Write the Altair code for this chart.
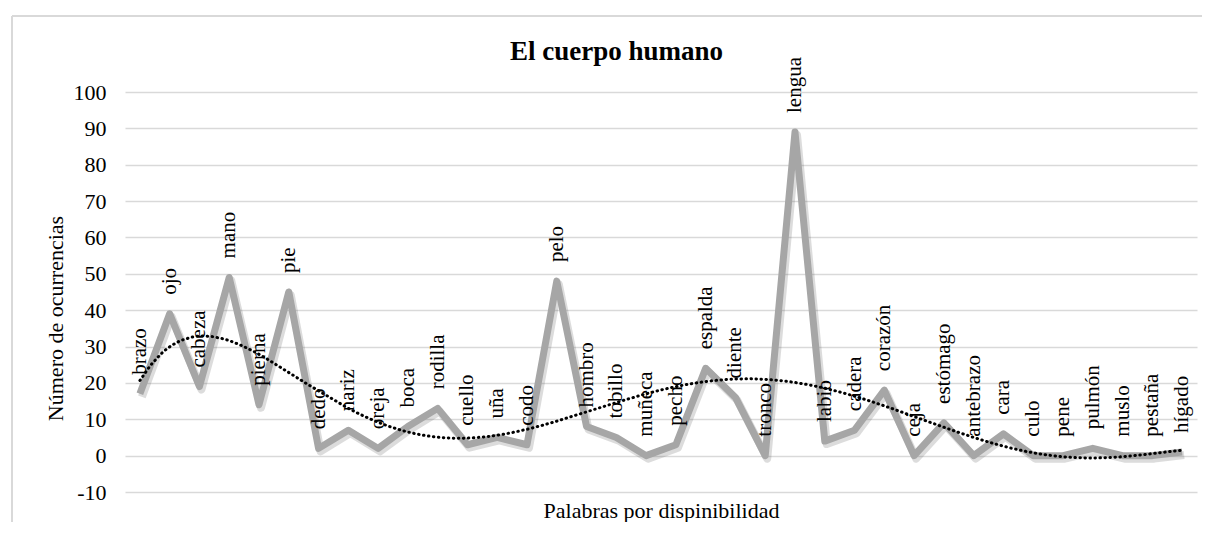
import altair as alt
import pandas as pd

words = ["brazo", "ojo", "cabeza", "mano", "pierna", "pie", "dedo", "nariz", "oreja", "boca",
         "rodilla", "cuello", "uña", "codo", "pelo", "hombro", "tobillo", "muñeca", "pecho",
         "espalda", "diente", "tronco", "lengua", "labio", "cadera", "corazón", "ceja",
         "estómago", "antebrazo", "cara", "culo", "pene", "pulmón", "muslo", "pestaña", "hígado"]
counts = [17, 39, 19, 49, 14, 45, 2, 7, 2, 8,
          13, 3, 5, 3, 48, 8, 5, 0, 3,
          24, 16, 0, 89, 4, 7, 18, 0,
          9, 0, 6, 0, 0, 2, 0, 0, 1]
y_ticks = [-10, 0, 10, 20, 30, 40, 50, 60, 70, 80, 90, 100]
title_text = ["El cuerpo humano"]

df = pd.DataFrame({"idx": list(range(1, len(words) + 1)), "val": counts, "word": words})

FONT = "Times New Roman, Liberation Serif, serif"
xs = alt.Scale(domain=[0.5, len(words) + 0.5], nice=False, zero=False)
ys = alt.Scale(domain=[-10, 100], nice=False)

base = alt.Chart(df)

shadow = base.mark_line(color="#606060", opacity=0.22, strokeWidth=8, strokeJoin="round",
                        xOffset=2, yOffset=3).encode(
    x=alt.X("idx:Q", scale=xs), y=alt.Y("val:Q", scale=ys)
)

line = base.mark_line(color="#a6a6a6", strokeWidth=7, strokeJoin="round").encode(
    x=alt.X("idx:Q", scale=xs,
            axis=alt.Axis(labels=False, ticks=False, domain=False, grid=False,
                          title="Palabras por dispinibilidad", titleFont=FONT,
                          titleFontSize=22, titleFontWeight="normal", titleColor="#000",
                          titlePadding=8)),
    y=alt.Y("val:Q", scale=ys,
            axis=alt.Axis(values=y_ticks, tickCount=len(y_ticks) + 2, ticks=False,
                          tickSize=0, domain=False,
                          labelOverlap=False, labelExpr="'' + datum.value",
                          gridColor="#d9d9d9", gridWidth=1.5, labelFont=FONT,
                          labelFontSize=22, labelColor="#000", labelPadding=19,
                          title="Número de ocurrencias", titleFont=FONT, titleFontSize=22,
                          titleFontWeight="normal", titleColor="#000",
                          titleAngle=270, titleX=-70, titleY=226,
                          titleBaseline="middle", titleAlign="center")),
)

trend = base.transform_regression(
    "idx", "val", method="poly", order=6, extent=[1, len(words)]
).mark_line(color="#000", strokeWidth=3, strokeDash=[0.5, 4.5], strokeCap="round").encode(
    x=alt.X("idx:Q", scale=xs), y=alt.Y("val:Q", scale=ys)
)

labels = base.mark_text(angle=270, align="left", baseline="middle", dx=19,
                        font=FONT, fontSize=21, color="#000").encode(
    x=alt.X("idx:Q", scale=xs), y=alt.Y("val:Q", scale=ys), text="word:N"
)

title = alt.Chart(pd.DataFrame({"t": title_text})).mark_text(
    font=FONT, fontSize=27, fontWeight="bold", color="#000",
    align="center", baseline="alphabetic"
).encode(x=alt.value(491.5), y=alt.value(-32), text="t:N")

border = alt.Chart(df).mark_rule(color="#d9d9d9", strokeWidth=1.5).encode(
    x=alt.value(-113), x2=alt.value(1100), y=alt.value(-76)
) + alt.Chart(df).mark_rule(color="#d9d9d9", strokeWidth=1.5).encode(
    x=alt.value(-113), y=alt.value(-76), y2=alt.value(460)
)

chart = alt.layer(border, shadow, line, trend, labels, title).properties(
    width=1072, height=400,
    background="white",
    autosize=alt.AutoSizeParams(type="none"),
    padding={"left": 117, "top": 84, "right": 5, "bottom": 30},
).configure_view(strokeWidth=0, stroke="transparent")

chart.save("out.html", embed_options={"renderer": "svg", "actions": False})
